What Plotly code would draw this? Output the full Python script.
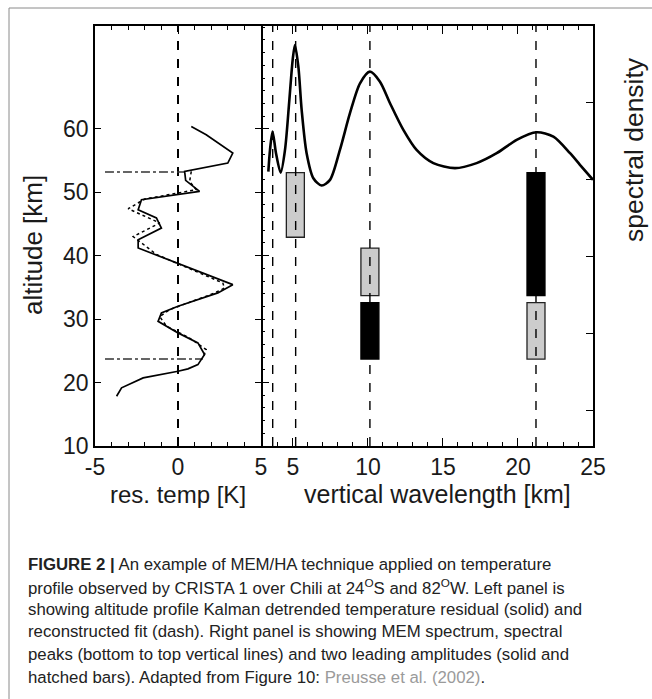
import plotly.graph_objects as go

# ---------------- data ----------------
# Left panel: Kalman detrended temperature residual (solid)
res_alt = [60.36, 59.06, 56.17, 54.6, 53.28, 51.86, 50.13, 48.82, 47.24, 45.94, 44.36,
           42.52, 41.21, 35.43, 34.13, 32.02, 30.98, 29.65, 27.83, 26.25, 24.41, 22.83,
           22.16, 21.78, 20.74, 19.17, 17.84]
res_temp = [0.80, 1.70, 3.30, 3.00, 0.40, 0.46, 1.30, -2.2, -2.4, -1.3, -1.0,
            -2.4, -2.4, 3.3, 2.4, 0.0, -1.0, -1.2, 0.0, 1.2, 1.6, 1.2,
            0.6, 0.0, -2.1, -3.4, -3.7]
# reconstructed fit (dash)
fit_alt = [53.28, 51.7, 50.4, 48.93, 47.4, 45.15, 43.0, 41.8, 40.2, 35.7, 34.9, 34.1,
           31.5, 30.4, 28.9, 27.0, 25.2, 23.9]
fit_temp = [0.8, 0.7, 1.1, -2.0, -3.0, -1.1, -2.7, -2.1, -1.3, 2.7, 2.8, 2.2,
            -0.5, -1.1, -0.7, 0.7, 1.7, 1.5]
# analysis window limits (dash-dot)
window_alt = [53.2, 23.7]
window_t_start = [-4.4, -4.4]
window_t_end = [0.4, 1.5]

# Right panel: MEM spectrum
wavelength = [3.36, 3.47, 3.64, 3.87, 4.18, 4.47, 4.76, 4.98, 5.13, 5.36, 5.58, 5.91,
              6.36, 6.91, 7.47, 8.13, 8.80, 9.47, 10.13, 10.80, 11.47, 12.36, 13.24,
              14.36, 15.80, 17.24, 18.58, 19.91, 21.24, 22.36, 23.47, 24.13, 25.0]
spec_density = [0.0128, 0.0245, 0.0424, 0.0222, 0.0124, 0.0245, 0.109, 0.361, 0.567,
                0.296, 0.0811, 0.0222, 0.0105, 0.00843, 0.0100, 0.0245, 0.0735, 0.180,
                0.255, 0.189, 0.0991, 0.0446, 0.0245, 0.0165, 0.0142, 0.0165, 0.0222,
                0.0331, 0.0416, 0.0365, 0.0222, 0.0157, 0.0100]
# spectral peaks
peaks = [3.65, 5.18, 10.13, 21.2]
# leading amplitudes: hatched (grey) and solid (black) bars
grey_wl = [5.16, 10.13, 21.2]
grey_bottom = [42.9, 33.7, 23.7]
grey_top = [53.1, 41.2, 32.6]
black_wl = [10.13, 21.2]
black_bottom = [23.7, 33.7]
black_top = [32.6, 53.1]

ALT_RANGE = [10, 76.2]
temp_ticks = [-5, 0, 5]
temp_ticktext = ["-5", "0", "5"]
wl_ticks = [5, 10, 15, 20, 25]
alt_ticks = [10, 20, 30, 40, 50, 60]

# ---------------- layout helpers ----------------
W, H = 652, 699
L, R, T, B = 95, 593, 26, 446


def px2x(px):
    return (px - L) / (R - L)


def py2y(py):
    return (B - py) / (B - T)


FONT = "Liberation Sans, Arial, sans-serif"
TXT = "#1a1a1a"
TICK_SIZE = 23

fig = go.Figure()

# left panel zero line
fig.add_trace(go.Scatter(x=[0, 0], y=ALT_RANGE, mode="lines", xaxis="x", yaxis="y",
                         line=dict(color="black", width=2, dash="dash"), hoverinfo="skip"))
# window lines
for a, t0, t1 in zip(window_alt, window_t_start, window_t_end):
    fig.add_trace(go.Scatter(x=[t0, t1], y=[a, a], mode="lines", xaxis="x", yaxis="y",
                             line=dict(color="#333", width=1.5, dash="dashdot"), hoverinfo="skip"))
fig.add_trace(go.Scatter(x=fit_temp, y=fit_alt, mode="lines", xaxis="x", yaxis="y",
                         line=dict(color="black", width=1.5, dash="dot")))
fig.add_trace(go.Scatter(x=res_temp, y=res_alt, mode="lines", xaxis="x", yaxis="y",
                         line=dict(color="black", width=1.7)))

# right panel peak lines
for p in peaks:
    fig.add_trace(go.Scatter(x=[p, p], y=ALT_RANGE, mode="lines", xaxis="x2", yaxis="y2",
                             line=dict(color="black", width=1.4, dash="dash"), hoverinfo="skip"))
# bars
fig.add_trace(go.Bar(x=grey_wl, base=grey_bottom,
                     y=[t - b for t, b in zip(grey_top, grey_bottom)],
                     width=1.2, xaxis="x2", yaxis="y2",
                     marker=dict(color="#cccccc", line=dict(color="#222", width=1.3))))
fig.add_trace(go.Bar(x=black_wl, base=black_bottom,
                     y=[t - b for t, b in zip(black_top, black_bottom)],
                     width=1.2, xaxis="x2", yaxis="y2",
                     marker=dict(color="black", line=dict(color="black", width=1.3))))
# spectrum
fig.add_trace(go.Scatter(x=wavelength, y=spec_density, mode="lines", xaxis="x2", yaxis="y3",
                         line=dict(color="black", width=2.6, shape="spline", smoothing=0.8)))

split = px2x(261)
axis_common = dict(showgrid=False, zeroline=False, showline=True, linecolor="black",
                   linewidth=1.5, ticks="inside", tickcolor="black",
                   tickfont=dict(family=FONT, size=TICK_SIZE, color=TXT))

fig.update_layout(
    width=W, height=H,
    margin=dict(l=L, r=W - R, t=T, b=H - B),
    paper_bgcolor="white", plot_bgcolor="white",
    showlegend=False, barmode="overlay",
    font=dict(family=FONT, color=TXT),
    xaxis=dict(domain=[0, split], range=[-5, 5], tickvals=temp_ticks, ticktext=temp_ticktext,
               ticklen=8, mirror="ticks", anchor="y",
               minor=dict(dtick=1, ticklen=4, ticks="inside", tickcolor="black"),
               **axis_common),
    xaxis2=dict(domain=[split, 1], range=[2.87, 25], tickvals=wl_ticks, ticklen=8,
                mirror="ticks", anchor="y2",
                minor=dict(dtick=1, tick0=0, ticklen=4, ticks="inside", tickcolor="black"),
                **axis_common),
    yaxis=dict(domain=[0, 1], range=ALT_RANGE, tickvals=alt_ticks, ticklen=6,
               mirror="ticks", anchor="x", **axis_common),
    yaxis2=dict(domain=[0, 1], range=ALT_RANGE, tickvals=[20, 40, 60], ticklen=8,
                showticklabels=False, anchor="x2",
                minor=dict(dtick=2, ticklen=4, ticks="inside", tickcolor="black"),
                **{**axis_common, "showline": False}),
    yaxis3=dict(overlaying="y2", side="right", type="log", range=[-5.46, 0], anchor="x2",
                dtick=1, ticklen=7, showticklabels=False, **axis_common),
)

ann = []
ann.append(dict(x=px2x(33), y=py2y(245), text="altitude [km]", textangle=-90,
                font=dict(size=26, family=FONT, color=TXT)))
ann.append(dict(x=px2x(178), y=py2y(494), text="res. temp [K]",
                font=dict(size=24, family=FONT, color=TXT)))
ann.append(dict(x=px2x(437), y=py2y(494), text="vertical wavelength [km]",
                font=dict(size=25, family=FONT, color=TXT)))
ann.append(dict(x=px2x(634), y=py2y(150), text="spectral density", textangle=-90,
                font=dict(size=26.5, family=FONT, color=TXT)))

caption = [
    "<b>FIGURE 2 |</b> An example of MEM/HA technique applied on temperature",
    "profile observed by CRISTA 1 over Chili at 24<sup>O</sup>S and 82<sup>O</sup>W. Left panel is",
    "showing altitude profile Kalman detrended temperature residual (solid) and",
    "reconstructed fit (dash). Right panel is showing MEM spectrum, spectral",
    "peaks (bottom to top vertical lines) and two leading amplitudes (solid and",
    "hatched bars). Adapted from Figure 10: <span style='color:#9a9a9a'>Preusse et al. (2002)</span>.",
]
for i, line in enumerate(caption):
    ann.append(dict(x=px2x(26), y=py2y(564 + i * 22.6), text=line, xanchor="left",
                    yanchor="middle", align="left",
                    font=dict(size=16.8, family=FONT, color="#222")))
for a in ann:
    a.update(xref="paper", yref="paper", showarrow=False)
    a.setdefault("xanchor", "center")
    a.setdefault("yanchor", "middle")
fig.update_layout(annotations=ann)

# image frame lines (top and left)
fig.add_shape(type="line", xref="paper", yref="paper", x0=px2x(9), x1=px2x(9),
              y0=py2y(8), y1=py2y(699), line=dict(color="#8a8a8a", width=1))
fig.add_shape(type="line", xref="paper", yref="paper", x0=px2x(9), x1=px2x(652),
              y0=py2y(8), y1=py2y(8), line=dict(color="#8a8a8a", width=1))

fig.write_html("out.html", config={"displayModeBar": False},
               post_script="document.body.style.margin='0';document.body.style.padding='0';")
